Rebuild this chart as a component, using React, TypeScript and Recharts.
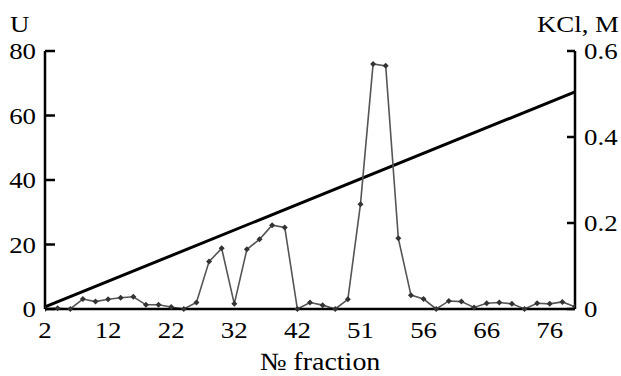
import { LineChart, Line, XAxis, YAxis } from "recharts"

// Фракции (номер) и активность, U
const fractions = [
  2, 4, 6, 8, 10, 12, 14, 16, 18, 20, 22, 24, 26, 28, 30, 32, 34, 36, 38, 40, 42, 44,
  46, 48, 50, 52, 54, 56, 58, 60, 62, 64, 66, 68, 70, 72, 74, 76, 78, 80, 82, 84, 86,
]
const activity = [
  0, 0.2, 0, 3.1, 2.3, 3.0, 3.5, 3.8, 1.3, 1.3, 0.6, 0, 2.0, 14.7, 18.8, 1.6, 18.5, 21.6,
  26, 25.3, 0, 2.0, 1.2, 0, 3.0, 32.5, 76, 75.4, 21.9, 4.3, 3.1, 0, 2.5, 2.3, 0.5, 1.8,
  2.0, 1.6, 0, 1.8, 1.6, 2.2, 0.7,
]

// Градиент KCl, M (начало и конец)
const kclFractions = [2, 86]
const kclValues = [0.005, 0.505]

// Подписи оси X (как в оригинале)
const xTicks = [2, 12, 22, 32, 42, 52, 62, 72, 82]
const xTickLabels = ["2", "12", "22", "32", "42", "51", "56", "66", "76"]
const leftTicks = [0, 20, 40, 60, 80]
const rightTicks = [0, 0.2, 0.4, 0.6]

const FONT = "'Liberation Serif', 'Times New Roman', serif"
const FS = 24
const SX = 1.12 // текст в оригинале немного растянут по горизонтали

const rows = fractions.map((f, i) => ({ fraction: f, u: activity[i] }))
const kclRows = kclFractions.map((f, i) => ({ fraction: f, kcl: kclValues[i] }))

function StretchText({
  x,
  y,
  anchor,
  size = FS,
  children,
}: {
  x: number
  y: number
  anchor: "start" | "middle" | "end"
  size?: number
  children: string
}) {
  return (
    <g transform={`translate(${x},${y}) scale(${SX},1)`}>
      <text x={0} y={0} textAnchor={anchor} fontFamily={FONT} fontSize={size} fill="#000">
        {children}
      </text>
    </g>
  )
}

function LeftTick(props: any) {
  const { x, y, payload } = props
  return (
    <g>
      <line x1={x} y1={y} x2={x + 10} y2={y} stroke="#000" strokeWidth={2.5} />
      <StretchText x={x - 9} y={y + 8} anchor="end">
        {String(payload.value)}
      </StretchText>
    </g>
  )
}

function RightTick(props: any) {
  const { x, y, payload } = props
  return (
    <g>
      <line x1={x - 8} y1={y} x2={x} y2={y} stroke="#000" strokeWidth={2.5} />
      <StretchText x={x + 9} y={y + 8} anchor="start">
        {String(payload.value)}
      </StretchText>
    </g>
  )
}

function BottomTick(props: any) {
  const { x, y, payload } = props
  const i = xTicks.indexOf(payload.value)
  return (
    <StretchText x={x} y={y + 29} anchor="middle">
      {xTickLabels[i] ?? String(payload.value)}
    </StretchText>
  )
}

function Diamond(props: any) {
  const { cx, cy } = props
  if (cx == null || cy == null) return null
  return (
    <polygon
      points={`${cx},${cy - 3} ${cx + 3},${cy} ${cx},${cy + 3} ${cx - 3},${cy}`}
      fill="#333"
    />
  )
}

export default function App() {
  return (
    <div
      style={{
        position: "absolute",
        left: 0,
        top: 0,
        width: 621,
        height: 376,
        overflow: "hidden",
        background: "#fff",
      }}
    >
      <LineChart
        width={621}
        height={376}
        data={rows}
        margin={{ top: 51, right: 0, bottom: 0, left: 0 }}
      >
        <XAxis
          dataKey="fraction"
          type="number"
          domain={[2, 86]}
          ticks={xTicks}
          height={67}
          tickSize={0}
          tickMargin={0}
          tick={<BottomTick />}
          axisLine={{ stroke: "#000", strokeWidth: 2.5 }}
          tickLine={false}
          allowDataOverflow
        />
        <YAxis
          yAxisId="u"
          orientation="left"
          domain={[0, 80]}
          ticks={leftTicks}
          width={45}
          tickSize={0}
          tickMargin={0}
          tick={<LeftTick />}
          tickLine={false}
          axisLine={{ stroke: "#000", strokeWidth: 2.5 }}
        />
        <YAxis
          yAxisId="kcl"
          orientation="right"
          domain={[0, 0.6]}
          ticks={rightTicks}
          width={46}
          tickSize={0}
          tickMargin={0}
          tick={<RightTick />}
          tickLine={false}
          axisLine={{ stroke: "#000", strokeWidth: 2.5 }}
        />
        <Line
          yAxisId="kcl"
          data={kclRows}
          dataKey="kcl"
          type="linear"
          stroke="#000"
          strokeWidth={3}
          dot={false}
          activeDot={false}
          isAnimationActive={false}
        />
        <Line
          yAxisId="u"
          dataKey="u"
          type="linear"
          stroke="#555"
          strokeWidth={1.6}
          dot={<Diamond />}
          activeDot={false}
          isAnimationActive={false}
        />
      </LineChart>
      <svg
        width={621}
        height={376}
        style={{ position: "absolute", left: 0, top: 0, display: "block", pointerEvents: "none" }}
      >
        <StretchText x={10} y={32} anchor="start">
          U
        </StretchText>
        <StretchText x={619} y={32} anchor="end">
          KCl, M
        </StretchText>
        <StretchText x={320} y={370} anchor="middle" size={25}>
          № fraction
        </StretchText>
      </svg>
    </div>
  )
}
